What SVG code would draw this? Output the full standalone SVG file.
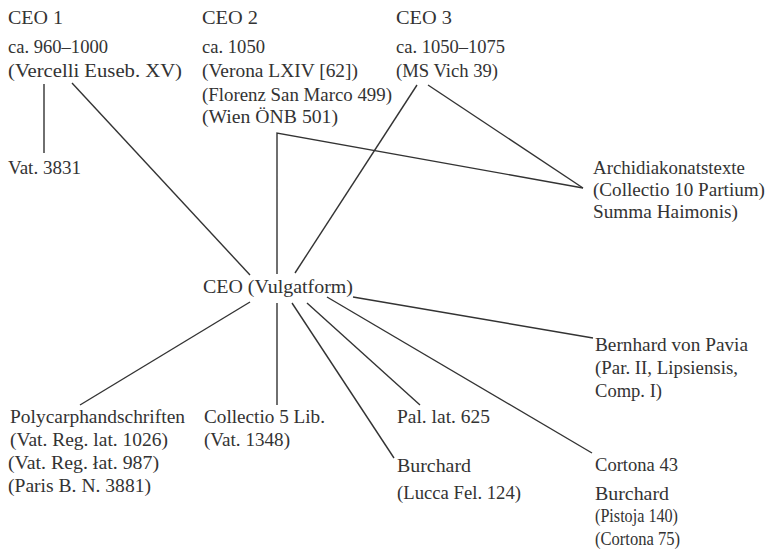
<svg xmlns="http://www.w3.org/2000/svg" width="774" height="553" viewBox="0 0 774 553">
<style>
  text { font-family: "Liberation Serif", "Times New Roman", serif; font-size: 19px; fill: #333; }
  .c line, .c polyline { stroke: #333; stroke-width: 1.4; fill: none; }
</style>
<rect width="774" height="553" fill="#fff"/>
<g class="c" id="connectors">
  <line x1="44" y1="84" x2="44" y2="153"/>
  <line x1="72" y1="83" x2="250" y2="275"/>
  <polyline points="277,274 277,133 583,188"/>
  <line x1="417" y1="85" x2="295" y2="273"/>
  <line x1="428" y1="85" x2="583" y2="188"/>
  <line x1="250" y1="302" x2="80" y2="405"/>
  <line x1="277" y1="303" x2="277" y2="405"/>
  <line x1="292" y1="303" x2="394" y2="458"/>
  <line x1="307" y1="303" x2="420" y2="405"/>
  <line x1="327" y1="297" x2="592" y2="453"/>
  <line x1="353" y1="297" x2="593" y2="338"/>
</g>
<g id="ceo1">
  <text x="8" y="24" textLength="55" lengthAdjust="spacingAndGlyphs">CEO 1</text>
  <text x="8" y="53" textLength="100" lengthAdjust="spacingAndGlyphs">ca. 960–1000</text>
  <text x="8" y="77" textLength="174" lengthAdjust="spacingAndGlyphs">(Vercelli Euseb. XV)</text>
</g>
<g id="vat3831">
  <text x="8" y="174" textLength="73" lengthAdjust="spacingAndGlyphs">Vat. 3831</text>
</g>
<g id="ceo2">
  <text x="202" y="24" textLength="56" lengthAdjust="spacingAndGlyphs">CEO 2</text>
  <text x="202" y="53" textLength="63" lengthAdjust="spacingAndGlyphs">ca. 1050</text>
  <text x="202" y="77" textLength="156" lengthAdjust="spacingAndGlyphs">(Verona LXIV [62])</text>
  <text x="202" y="101" textLength="190" lengthAdjust="spacingAndGlyphs">(Florenz San Marco 499)</text>
  <text x="202" y="123" textLength="136" lengthAdjust="spacingAndGlyphs">(Wien ÖNB 501)</text>
</g>
<g id="ceo3">
  <text x="396" y="24" textLength="56" lengthAdjust="spacingAndGlyphs">CEO 3</text>
  <text x="396" y="53" textLength="109" lengthAdjust="spacingAndGlyphs">ca. 1050–1075</text>
  <text x="396" y="77" textLength="102" lengthAdjust="spacingAndGlyphs">(MS Vich 39)</text>
</g>
<g id="archidiakonat">
  <text x="593" y="174" textLength="152" lengthAdjust="spacingAndGlyphs">Archidiakonatstexte</text>
  <text x="593" y="196" textLength="172" lengthAdjust="spacingAndGlyphs">(Collectio 10 Partium)</text>
  <text x="593" y="218" textLength="145" lengthAdjust="spacingAndGlyphs">Summa Haimonis)</text>
</g>
<g id="vulgatform">
  <text x="203" y="293" textLength="150" lengthAdjust="spacingAndGlyphs">CEO (Vulgatform)</text>
</g>
<g id="bernhard">
  <text x="595" y="351" textLength="153" lengthAdjust="spacingAndGlyphs">Bernhard von Pavia</text>
  <text x="595" y="374" textLength="143" lengthAdjust="spacingAndGlyphs">(Par. II, Lipsiensis,</text>
  <text x="595" y="397" textLength="67" lengthAdjust="spacingAndGlyphs">Comp. I)</text>
</g>
<g id="polycarp">
  <text x="10" y="423" textLength="175" lengthAdjust="spacingAndGlyphs">Polycarphandschriften</text>
  <text x="10" y="446" textLength="158" lengthAdjust="spacingAndGlyphs">(Vat. Reg. lat. 1026)</text>
  <text x="8" y="469" textLength="151" lengthAdjust="spacingAndGlyphs">(Vat. Reg. łat. 987)</text>
  <text x="8" y="492" textLength="143" lengthAdjust="spacingAndGlyphs">(Paris B. N. 3881)</text>
</g>
<g id="collectio5">
  <text x="204" y="423" textLength="121" lengthAdjust="spacingAndGlyphs">Collectio 5 Lib.</text>
  <text x="204" y="446" textLength="86" lengthAdjust="spacingAndGlyphs">(Vat. 1348)</text>
</g>
<g id="pallat">
  <text x="397" y="423" textLength="93" lengthAdjust="spacingAndGlyphs">Pal. lat. 625</text>
</g>
<g id="burchard">
  <text x="397" y="472" textLength="74" lengthAdjust="spacingAndGlyphs">Burchard</text>
  <text x="397" y="499" textLength="124" lengthAdjust="spacingAndGlyphs">(Lucca Fel. 124)</text>
</g>
<g id="cortona">
  <text x="595" y="471" textLength="83" lengthAdjust="spacingAndGlyphs">Cortona 43</text>
  <text x="595" y="500" textLength="74" lengthAdjust="spacingAndGlyphs">Burchard</text>
  <text x="595" y="522" textLength="83" lengthAdjust="spacingAndGlyphs">(Pistoja 140)</text>
  <text x="595" y="545" textLength="85" lengthAdjust="spacingAndGlyphs">(Cortona 75)</text>
</g>
</svg>
